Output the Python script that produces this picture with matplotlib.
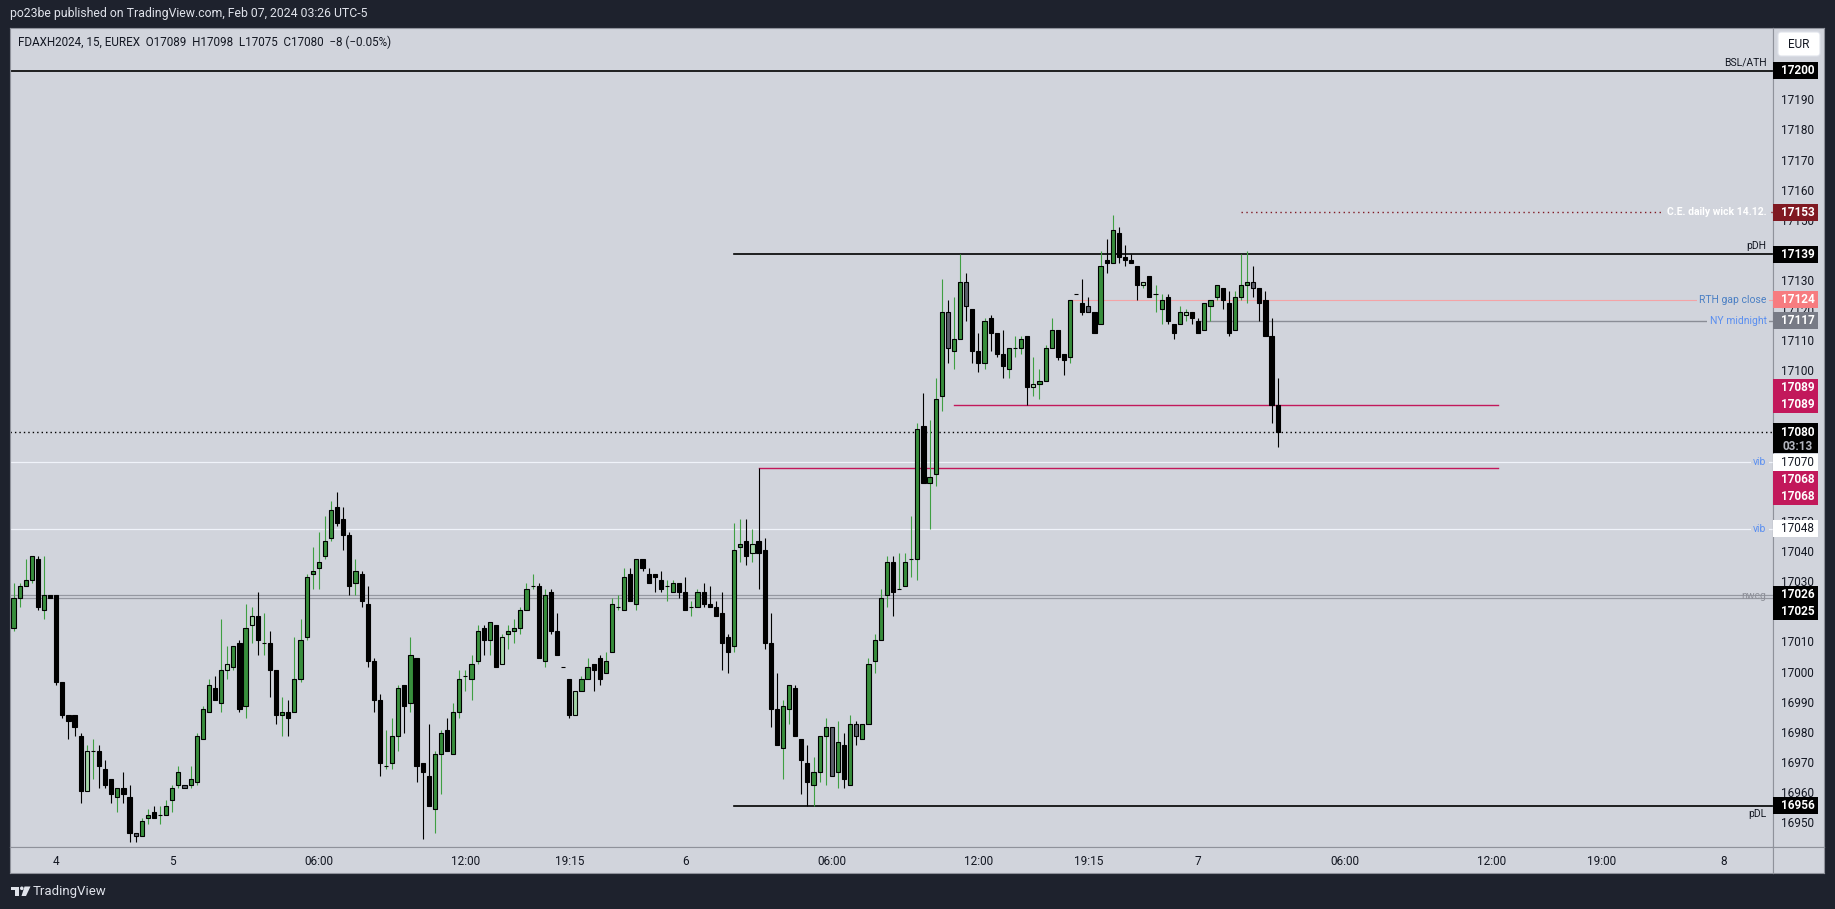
import matplotlib
matplotlib.use("Agg")
import matplotlib.pyplot as plt
import matplotlib.transforms as mtrans
from matplotlib.patches import Rectangle, FancyBboxPatch, Circle, Polygon

plt.rcParams["font.family"] = ["Roboto", "DejaVu Sans"]

W, H = 1835, 909
DPI = 100

# FDAXH2024, 15 min bars (bar 0 = first visible bar)
opens = [
    17015, 17025, 17029, 17031, 17038, 17021, 17026, 17026, 16997, 16986,
    16986, 16979, 16961, 16974, 16974, 16968, 16965, 16959, 16962, 16959,
    16947, 16946, 16952, 16954, 16953, 16953, 16958, 16963, 16963, 16963,
    16964, 16978, 16987, 16995, 16990, 17001, 17002, 17010, 16989, 17016,
    17019, 17010, 17010, 17001, 16986, 16987, 16987, 16998, 17012, 17033,
    17035, 17039, 17045, 17055, 17051, 17046, 17030, 17033, 17023, 17004,
    16991, 16969, 16970, 16979, 16996, 16990, 17005, 16970, 16966, 16955,
    16973, 16981, 16973, 16987, 16999, 16998, 17004, 17015, 17011, 17016,
    17003, 17013, 17014, 17015, 17021, 17029, 17029, 17004, 17027, 17014,
    17002, 16998, 16986, 16994, 16998, 17003, 17005, 17000, 17007, 17022,
    17021, 17033, 17023, 17038, 17033, 17033, 17031, 17029, 17027, 17030,
    17027, 17022, 17022, 17027, 17023, 17022, 17020, 17012, 17009, 17042,
    17044, 17040, 17044, 17041, 17010, 16988, 16975, 16988, 16995, 16978,
    16970, 16963, 16967, 16979, 16982, 16967, 16976, 16963, 16983, 16978,
    16983, 17004, 17011, 17026, 17037, 17028, 17029, 17038, 17038, 17082,
    17063, 17066, 17092, 17120, 17107, 17111, 17130, 17121, 17107, 17103,
    17118, 17113, 17106, 17101, 17108, 17108, 17112, 17095, 17096, 17097,
    17108, 17114, 17106, 17105, 17126, 17123, 17122, 17120, 17116, 17137,
    17136, 17146, 17138, 17137, 17135, 17129, 17132, 17126, 17121, 17125,
    17116, 17116, 17119, 17120, 17117, 17114, 17122, 17125, 17128, 17123,
    17114, 17125, 17129, 17130, 17128, 17124, 17112, 17089,
]
highs = [
    17030, 17030, 17038, 17039, 17039, 17039, 17026, 17026, 16997, 16986,
    16986, 16980, 16976, 16978, 16976, 16971, 16965, 16962, 16967, 16963,
    16947, 16952, 16955, 16956, 16956, 16958, 16963, 16969, 16963, 16969,
    16980, 16989, 16998, 16999, 17018, 17009, 17009, 17011, 17023, 17022,
    17027, 17020, 17014, 17001, 16992, 16991, 17012, 17018, 17033, 17042,
    17047, 17052, 17057, 17060, 17055, 17047, 17038, 17034, 17029, 17005,
    16993, 16981, 16985, 16996, 16996, 17012, 17005, 16970, 16983, 16974,
    16981, 16985, 16990, 17001, 17001, 17006, 17016, 17016, 17017, 17016,
    17013, 17016, 17018, 17022, 17030, 17033, 17030, 17028, 17028, 17020,
    17002, 16998, 16994, 16999, 17005, 17003, 17006, 17007, 17025, 17026,
    17035, 17035, 17038, 17038, 17035, 17033, 17034, 17031, 17031, 17030,
    17032, 17024, 17028, 17030, 17029, 17024, 17027, 17013, 17050, 17051,
    17051, 17048, 17068, 17045, 17020, 17000, 16991, 16996, 16996, 16978,
    16976, 16972, 16979, 16985, 16982, 16984, 16980, 16986, 16984, 16983,
    17005, 17013, 17028, 17039, 17039, 17040, 17040, 17052, 17083, 17093,
    17084, 17098, 17131, 17124, 17125, 17139, 17133, 17121, 17113, 17118,
    17119, 17113, 17114, 17108, 17112, 17112, 17112, 17105, 17101, 17109,
    17118, 17114, 17106, 17124, 17126, 17131, 17125, 17120, 17140, 17144,
    17152, 17148, 17142, 17139, 17135, 17130, 17132, 17129, 17126, 17126,
    17116, 17122, 17121, 17120, 17118, 17123, 17124, 17129, 17128, 17127,
    17127, 17139, 17140, 17135, 17128, 17127, 17118, 17098,
]
lows = [
    17014, 17022, 17029, 17030, 17021, 17018, 17025, 16996, 16985, 16978,
    16979, 16957, 16961, 16965, 16962, 16962, 16957, 16954, 16957, 16944,
    16944, 16946, 16950, 16952, 16950, 16953, 16954, 16962, 16962, 16962,
    16963, 16978, 16987, 16991, 16987, 16998, 17001, 16987, 16985, 17010,
    17006, 17006, 16992, 16983, 16979, 16979, 16987, 16997, 17011, 17028,
    17028, 17038, 17044, 17049, 17041, 17026, 17026, 17022, 17002, 16987,
    16966, 16968, 16968, 16974, 16980, 16987, 16964, 16945, 16956, 16947,
    16960, 16974, 16973, 16985, 16994, 16991, 17003, 17006, 17006, 17002,
    17003, 17008, 17010, 17013, 17021, 17028, 17005, 17002, 17013, 17006,
    17002, 16985, 16986, 16994, 16998, 16994, 16996, 17000, 17007, 17021,
    17021, 17024, 17021, 17034, 17030, 17027, 17027, 17024, 17027, 17025,
    17021, 17019, 17022, 17022, 17022, 17019, 17001, 17000, 17007, 17037,
    17036, 17037, 17028, 17008, 16982, 16976, 16965, 16983, 16979, 16960,
    16956, 16956, 16964, 16963, 16966, 16962, 16962, 16963, 16976, 16978,
    16983, 17000, 17011, 17022, 17019, 17028, 17029, 17032, 17031, 17063,
    17048, 17062, 17087, 17103, 17101, 17111, 17117, 17103, 17100, 17101,
    17107, 17105, 17098, 17098, 17105, 17106, 17089, 17092, 17091, 17097,
    17108, 17104, 17099, 17103, 17126, 17119, 17120, 17113, 17116, 17133,
    17136, 17136, 17135, 17136, 17124, 17128, 17125, 17120, 17116, 17116,
    17111, 17116, 17117, 17116, 17113, 17114, 17117, 17124, 17121, 17112,
    17114, 17124, 17123, 17125, 17117, 17112, 17083, 17075,
]
closes = [
    17025, 17029, 17031, 17039, 17022, 17026, 17025, 16997, 16986, 16984,
    16982, 16961, 16974, 16974, 16969, 16963, 16960, 16962, 16960, 16947,
    16946, 16951, 16953, 16952, 16953, 16956, 16962, 16967, 16962, 16965,
    16979, 16988, 16996, 16991, 17001, 17003, 17009, 16988, 17015, 17019,
    17011, 17010, 17001, 16986, 16987, 16985, 16998, 17011, 17032, 17034,
    17037, 17044, 17054, 17050, 17046, 17029, 17034, 17024, 17004, 16991,
    16970, 16969, 16979, 16995, 16989, 17006, 16969, 16967, 16956, 16973,
    16980, 16974, 16987, 16998, 16999, 17003, 17014, 17011, 17017, 17002,
    17012, 17014, 17015, 17021, 17028, 17029, 17005, 17026, 17014, 17006,
    17002, 16986, 16994, 16998, 17002, 17001, 16998, 17004, 17023, 17022,
    17032, 17024, 17038, 17035, 17030, 17032, 17028, 17029, 17030, 17027,
    17021, 17022, 17027, 17023, 17022, 17019, 17010, 17007, 17041, 17043,
    17039, 17043, 17040, 17010, 16988, 16976, 16989, 16996, 16979, 16971,
    16964, 16967, 16979, 16982, 16966, 16977, 16965, 16983, 16979, 16983,
    17003, 17011, 17025, 17037, 17027, 17028, 17037, 17038, 17081, 17063,
    17065, 17091, 17120, 17108, 17111, 17130, 17122, 17107, 17103, 17117,
    17113, 17106, 17102, 17108, 17108, 17111, 17095, 17096, 17097, 17108,
    17114, 17105, 17104, 17124, 17126, 17120, 17120, 17113, 17135, 17136,
    17147, 17138, 17137, 17136, 17129, 17130, 17125, 17126, 17124, 17117,
    17113, 17120, 17120, 17118, 17113, 17123, 17124, 17129, 17124, 17113,
    17125, 17129, 17130, 17128, 17123, 17112, 17089, 17080,
]

# bars painted in other colours by the indicator
light_bars = [12, 35, 39, 80, 92, 121, 167, 185, 192]
gray_bars = [20, 28, 134, 138, 153, 156, 176, 203]

time_labels = ["4", "5", "06:00", "12:00", "19:15", "6", "06:00", "12:00",
               "19:15", "7", "06:00", "12:00", "19:00", "8"]
time_bars = [7, 26, 50, 74, 91, 110, 134, 158, 176, 194, 218, 242, 260, 280]

# horizontal levels (start bar -1 = from the left edge)
level_names = ["BSL/ATH", "C.E. daily wick 14.12.", "pDH", "RTH gap close",
               "NY midnight", "vib", "vib", "nweg", "nweg", "pDL"]
level_prices = [17200, 17153, 17139, 17124, 17117, 17070, 17048, 17026, 17025, 16956]
level_from = [-1, 201, 118, 173, 194, -1, -1, -1, -1, 118]

# short ranges
range_prices = [17089, 17068]
range_from = [154, 122]
range_to = [243, 243]

last_price = 17080
countdown = "03:13"

header = "po23be published on TradingView.com, Feb 07, 2024 03:26 UTC-5"
title = "FDAXH2024, 15, EUREX  O17089  H17098  L17075  C17080  \u22128 (\u22120.05%)"

# ---------------------------------------------------------------------------
BG = "#d1d4dc"
DARK = "#1e222d"
TXT = "#131722"
GREEN = "#388e3c"
GREEN_WICK = "#3f9f42"
LIGHT = "#a5d6a7"
GRAY = "#5d606b"
CRIMSON = "#c2185b"
SEP = "#8f929b"

PX_BAR = 6.107
PX_PT = 3.012
LEFT, RIGHT, TOP, BOTTOM, AXB, EDGE = 10, 1773, 28, 847, 873, 1824

x_lo = (LEFT - 13.5) / PX_BAR
x_hi = (RIGHT - 13.5) / PX_BAR
y_hi = 17200 + (70.7 - TOP) / PX_PT
y_lo = 17200 - (BOTTOM - 70.7) / PX_PT


def frac(l, t, r, b):
    return [l / W, (H - b) / H, (r - l) / W, (b - t) / H]


def clean(a, color=SEP):
    a.set_xticks([])
    a.set_yticks([])
    for s in a.spines.values():
        s.set_color(color)
        s.set_linewidth(0.8)


fig = plt.figure(figsize=(W / DPI, H / DPI), dpi=DPI)
fig.patch.set_facecolor(DARK)

ax = fig.add_axes(frac(LEFT, TOP, RIGHT, BOTTOM))
ax.set_facecolor(BG)
ax.set_xlim(x_lo, x_hi)
ax.set_ylim(y_lo, y_hi)
clean(ax)

# candles
for i, (o, h, l, c) in enumerate(zip(opens, highs, lows, closes)):
    if i in gray_bars:
        face, wick = GRAY, "black"
    elif i in light_bars:
        face, wick = LIGHT, GREEN_WICK
    elif c >= o:
        face, wick = GREEN, GREEN_WICK
    else:
        face, wick = "black", "black"
    if h > l:
        ax.plot([i, i], [l, h], color=wick, lw=0.8, zorder=3,
                solid_capstyle="butt")
    ax.add_patch(Rectangle((i - 0.34, min(o, c)), 0.68, abs(c - o),
                           facecolor=face, edgecolor="black", lw=0.8, zorder=4))

# levels
level_styles = [
    ("#000000", "-", 1.2, TXT, "normal", "above"),
    ("#801922", (0, (1, 2.5)), 1.0, "white", "bold", "center"),
    ("#000000", "-", 1.2, TXT, "normal", "above"),
    ("#f4a3a6", "-", 0.8, "#4a7fc4", "normal", "center"),
    ("#8a8d96", "-", 1.0, "#5b8ff0", "normal", "center"),
    ("#f0f3fa", "-", 0.9, "#5b8ff0", "normal", "center"),
    ("#f0f3fa", "-", 0.9, "#5b8ff0", "normal", "center"),
    ("#9598a1", "-", 0.9, "#8e9099", "normal", "none"),
    ("#9598a1", "-", 0.9, "#8e9099", "normal", "nweg"),
    ("#000000", "-", 1.2, TXT, "normal", "below"),
]
blend = mtrans.blended_transform_factory(ax.transAxes, ax.transData)
lab_x = (1766.5 - LEFT) / (RIGHT - LEFT)
for name, p, start, st in zip(level_names, level_prices, level_from, level_styles):
    color, ls, lw, tcol, weight, place = st
    x0 = x_lo if start < 0 else start
    ax.plot([x0, x_hi], [p, p], color=color, ls=ls, lw=lw, zorder=2)
    kw = dict(xycoords=blend, textcoords="offset points", ha="right",
              fontsize=7.5, color=tcol, fontweight=weight, zorder=6)
    if place == "above":
        ax.annotate(name, (lab_x, p), xytext=(0, 6), va="center", **kw)
    elif place == "below":
        ax.annotate(name, (lab_x, p), xytext=(0, -6), va="center", **kw)
    elif place == "center":
        ax.annotate(name, (lab_x, p), xytext=(0, 0), va="center",
                    bbox=dict(boxstyle="square,pad=0.25", fc=BG, ec="none"), **kw)
    elif place == "nweg":
        ax.annotate(name, (lab_x, p + 0.5), xytext=(0, 0), va="center", **kw)

for p, a, b in zip(range_prices, range_from, range_to):
    ax.plot([a, b], [p, p], color=CRIMSON, lw=1.0, zorder=2)

# last price dotted line
ax.plot([x_lo, x_hi], [last_price, last_price], color="black",
        ls=(0, (1, 2.2)), lw=1.0, zorder=2)

# price scale
ax_r = fig.add_axes(frac(RIGHT, TOP, EDGE, BOTTOM))
ax_r.set_facecolor(BG)
ax_r.set_xlim(0, EDGE - RIGHT)
ax_r.set_ylim(y_lo, y_hi)
clean(ax_r)
for p in range(16950, 17201, 10):
    ax_r.text(24.5, p, str(p), ha="center", va="center", fontsize=8.5,
              color=TXT, zorder=2)

axis_boxes = [
    (17200, 0, "#000000", "white"), (17153, 0, "#801922", "white"),
    (17139, 0, "#000000", "white"), (17124, 0, "#f77c80", "white"),
    (17117, 0, "#787b86", "white"), (17089, -18, CRIMSON, "white"),
    (17089, -1, CRIMSON, "white"), (17070, 0, "#ffffff", TXT),
    (17068, 11, CRIMSON, "white"), (17068, 28, CRIMSON, "white"),
    (17048, 0, "#ffffff", TXT), (17026, 0, "#000000", "white"),
    (17025, 14, "#000000", "white"), (16956, 0, "#000000", "white"),
]
bh = 17 / PX_PT
for p, off, bg, fg in axis_boxes:
    yc = p - off / PX_PT
    ax_r.add_patch(Rectangle((0, yc - bh / 2), 45, bh, fc=bg, ec="none", zorder=3))
    ax_r.text(24.5, yc, str(p), ha="center", va="center", fontsize=8.5,
              color=fg, fontweight="normal" if bg == "#ffffff" else "bold", zorder=4)

ax_r.add_patch(Rectangle((0, last_price - 21 / PX_PT), 45, 30 / PX_PT,
                         fc="#000000", ec="none", zorder=3))
ax_r.text(24.5, last_price, str(last_price), ha="center", va="center",
          fontsize=8.5, color="white", fontweight="bold", zorder=4)
ax_r.text(24.5, last_price - 14 / PX_PT, countdown, ha="center", va="center",
          fontsize=8.5, color="#b2b5be", fontweight="bold", zorder=4)

# time scale
ax_t = fig.add_axes(frac(LEFT, BOTTOM, RIGHT, AXB))
ax_t.set_facecolor(BG)
ax_t.set_xlim(x_lo, x_hi)
ax_t.set_ylim(0, 1)
clean(ax_t)
for lab, b in zip(time_labels, time_bars):
    ax_t.text(b, 0.45, lab, ha="center", va="center", fontsize=8.5, color=TXT)

ax_c = fig.add_axes(frac(RIGHT, BOTTOM, EDGE, AXB))
ax_c.set_facecolor(BG)
clean(ax_c)

# overlay in pixel coordinates
ov = fig.add_axes([0, 0, 1, 1])
ov.set_xlim(0, W)
ov.set_ylim(H, 0)
ov.axis("off")
ov.patch.set_alpha(0)

ov.text(10, 14, header, ha="left", va="center", fontsize=8.8, color="#e0e3eb")
ov.text(18, 42, title, ha="left", va="center", fontsize=8.4, color=TXT)
ov.add_patch(FancyBboxPatch((1778, 32), 42, 24,
                            boxstyle="round,pad=0,rounding_size=3",
                            fc="white", ec="#e0e3eb", lw=0.8))
ov.text(1799, 44.5, "EUR", ha="center", va="center", fontsize=8.5, color=TXT)

# TradingView mark
LOGO = "#e0e3eb"
ov.add_patch(Rectangle((10.5, 886.5), 8.5, 3.5, fc=LOGO, ec="none"))
ov.add_patch(Rectangle((15, 886.5), 4, 9.5, fc=LOGO, ec="none"))
ov.add_patch(Circle((21.8, 888.3), 1.8, fc=LOGO, ec="none"))
ov.add_patch(Polygon([(24.5, 886.5), (30.5, 886.5), (26, 896), (21.5, 896)],
                     closed=True, fc=LOGO, ec="none"))
ov.text(33, 891, "TradingView", ha="left", va="center", fontsize=9.5,
        color=LOGO)

fig.savefig("out.png", dpi=DPI, facecolor=fig.get_facecolor())
